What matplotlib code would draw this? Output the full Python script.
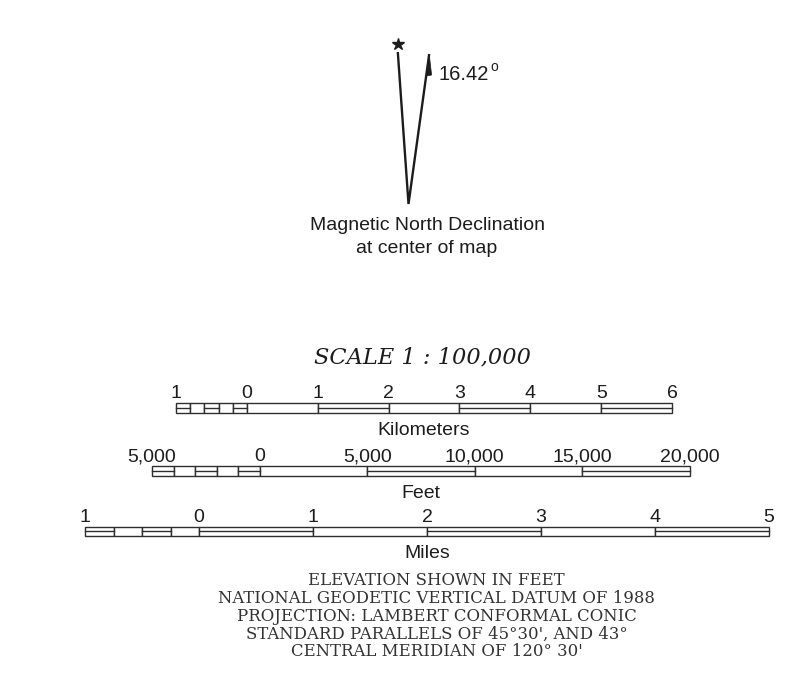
import matplotlib
matplotlib.use("Agg")
import matplotlib.pyplot as plt
from matplotlib.patches import Rectangle, Polygon

# ---------------- data ----------------
declination_deg = 16.42
title = "SCALE 1 : 100,000"

km_ticks = [-1, 0, 1, 2, 3, 4, 5, 6]
km_labels = ["1", "0", "1", "2", "3", "4", "5", "6"]
km_subdiv = 5

feet_ticks = [-5000, 0, 5000, 10000, 15000, 20000]
feet_labels = ["5,000", "0", "5,000", "10,000", "15,000", "20,000"]
feet_subdiv = 5

mile_ticks = [-1, 0, 1, 2, 3, 4, 5]
mile_labels = ["1", "0", "1", "2", "3", "4", "5"]
mile_subdiv = 4

notes = [
    "ELEVATION SHOWN IN FEET",
    "NATIONAL GEODETIC VERTICAL DATUM OF 1988",
    "PROJECTION: LAMBERT CONFORMAL CONIC",
    "STANDARD PARALLELS OF 45°30', AND 43°",
    "CENTRAL MERIDIAN OF 120° 30'",
]

# ---------------- layout ----------------
W, H = 796, 687
INK = "#1c1c1c"
BAR = "#2e2e2e"
NOTE = "#333333"
SANS = "Liberation Sans"

fig = plt.figure(figsize=(W / 100, H / 100), dpi=100)
ax = fig.add_axes([0, 0, 1, 1])
ax.set_xlim(0, W)
ax.set_ylim(H, 0)
ax.axis("off")

# declination diagram
vertex = (408.5, 204)
true_top = (397.8, 52)
mag_top = (429.2, 54)
ax.plot([true_top[0], vertex[0], mag_top[0]], [true_top[1], vertex[1], mag_top[1]],
        color=INK, lw=1.7, solid_joinstyle="miter", solid_capstyle="butt")
ax.plot([true_top[0]], [43.5], marker="*", color=INK, ms=9, mec=INK)
ax.add_patch(Polygon([(429.2, 54), (426.2, 76), (431.6, 75)], closed=True,
                     fc=INK, ec=INK, lw=0.5))
ax.text(438, 80, f"{declination_deg:.2f}", fontsize=14.5, family=SANS,
        color=INK, ha="left", va="baseline")
ax.text(490, 71, "o", fontsize=10, family=SANS, color=INK, ha="left", va="baseline")
ax.text(427, 230, "Magnetic North Declination", fontsize=14, family=SANS,
        color=INK, ha="center", va="baseline")
ax.text(427, 253, "at center of map", fontsize=14, family=SANS,
        color=INK, ha="center", va="baseline")

# title
ax.text(422.5, 363, title, fontsize=16.2, family="DejaVu Serif", style="italic",
        color=INK, ha="center", va="baseline")


def draw_bar(zero_px, px_per_unit, ticks, labels, subdiv, name, top):
    a = fig.add_axes([0, 0, 1, 1])
    a.set_xlim(-zero_px / px_per_unit, (W - zero_px) / px_per_unit)
    a.set_ylim(H, 0)
    a.axis("off")
    a.patch.set_visible(False)
    h = 9.5
    bot = top + h
    mid = top + h / 2
    step = ticks[1] - ticks[0]
    edges = [ticks[0] + step * i / subdiv for i in range(subdiv)] + list(ticks[1:])
    double = True
    for x0, x1 in zip(edges[:-1], edges[1:]):
        a.add_patch(Rectangle((x0, top), x1 - x0, h, fc="white", ec=BAR, lw=1.0))
        if double:
            a.plot([x0, x1], [mid, mid], color=BAR, lw=1.0)
        double = not double
    for tk, lb in zip(ticks, labels):
        a.text(tk, top - 5, lb, fontsize=14, family=SANS, color=INK,
               ha="center", va="baseline")
    a.text((ticks[0] + ticks[-1]) / 2, bot + 22.5, name, fontsize=14, family=SANS,
           color=INK, ha="center", va="baseline")


draw_bar(246.9, 70.86, km_ticks, km_labels, km_subdiv, "Kilometers", 403)
draw_bar(259.6, 107.6 / 5000, feet_ticks, feet_labels, feet_subdiv, "Feet", 466)
draw_bar(199.0, 114.0, mile_ticks, mile_labels, mile_subdiv, "Miles", 526.5)

# notes
for i, line in enumerate(notes):
    ax.text(436.5, 585 + i * 17.8, line, fontsize=11.9, family="DejaVu Serif",
            color=NOTE, ha="center", va="baseline")

fig.savefig("out.png", dpi=100)
